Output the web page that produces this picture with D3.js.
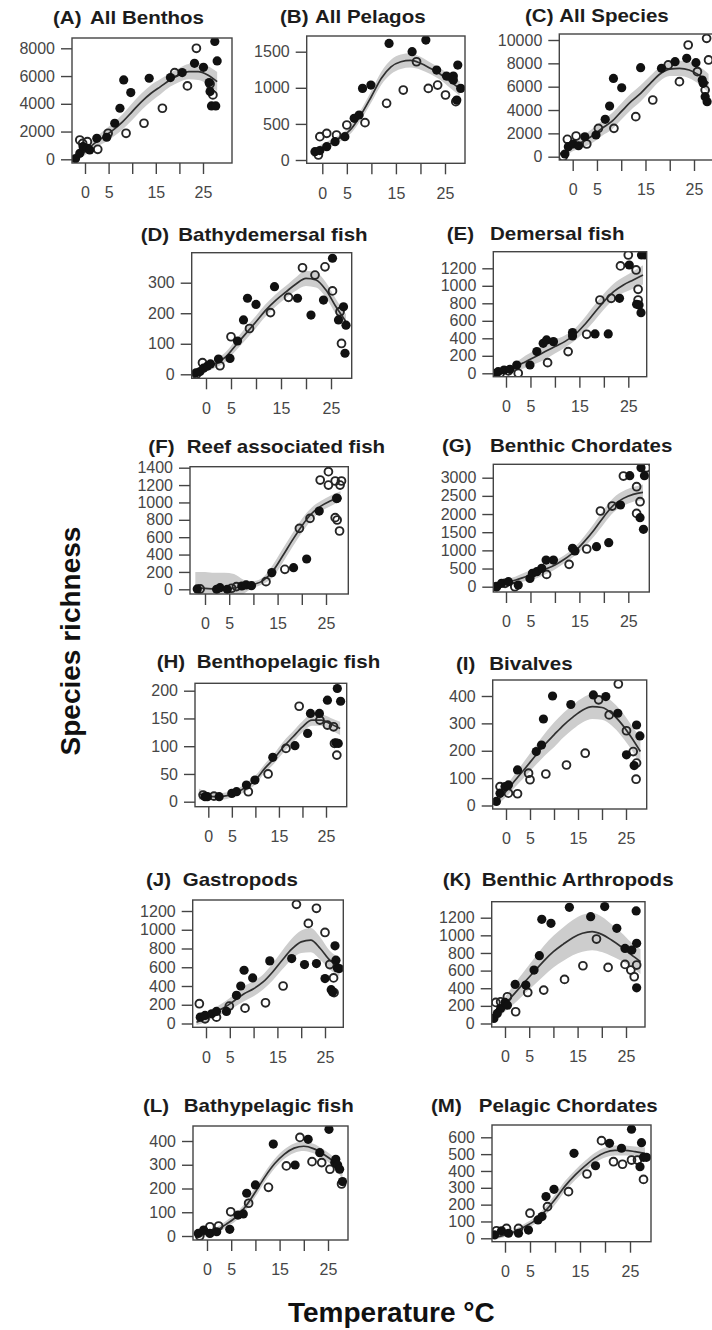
<!DOCTYPE html>
<html>
<head>
<meta charset="utf-8">
<script src="https://cdn.jsdelivr.net/npm/d3@7"></script>
<style>
  body { margin: 0; background: #fff; }
  svg { display: block; font-family: "Liberation Sans", Arial, sans-serif; }
</style>
</head>
<body>
<script>
const width = 712,
  height = 1330;

// temperatures at which the fitted curve / CI band were read
const temps = [-2, 0, 2, 4, 6, 8, 10, 12, 14, 16, 18, 20, 22, 24, 26, 28];
const xTicks = [0, 5, 10, 15, 20, 25];
const xLabels = ['0', '5', '', '15', '', '25'];

const panelIds = ['A', 'B', 'C', 'D', 'E', 'F', 'G', 'H', 'I', 'J', 'K', 'L', 'M'];
const panelNames = ['All Benthos', 'All Pelagos', 'All Species', 'Bathydemersal fish', 'Demersal fish',
  'Reef associated fish', 'Benthic Chordates', 'Benthopelagic fish', 'Bivalves', 'Gastropods',
  'Benthic Arthropods', 'Bathypelagic fish', 'Pelagic Chordates'];

// (A) All Benthos
const yTicksA = [0, 2000, 4000, 6000, 8000];
const filledA = [[-2,50],[-1.1,430],[-0.4,910],[0.5,790],[1,670],[2.5,1510],[4.6,1590],[6.3,2600],[7.4,3680],[8.2,5720],[9.7,4810],[13.6,5840],[18.1,5890],[20.6,6250],[23.2,6920],[25.1,6630],[26.3,5530],[26.5,4880],[26.8,3850],[27.7,3850],[27.5,8490],[28,7090]];
const openA = [[-1.1,1390],[0.5,1270],[-0.5,1150],[2.7,720],[4.9,1875],[8.7,1875],[12.5,2600],[16.4,3680],[19,6250],[21.7,5290],[23.6,8000],[26.5,5430],[27.1,4640]];
const fitA = [0,550,1150,1630,2120,2720,3440,4160,4760,5240,5720,6080,6320,6320,6080,5600];
const ciA = [100,250,350,450,500,550,600,600,600,550,500,500,550,600,650,700];

// (B) All Pelagos
const yTicksB = [0, 500, 1000, 1500];
const filledB = [[-1.5,115],[-0.5,130],[0.9,185],[2.6,254],[4.6,323],[6.5,577],[7.5,623],[8.2,992],[9.9,1038],[13.6,1615],[18.3,1500],[21.1,1661],[23.3,1246],[25.3,1163],[26.7,1163],[26.7,1108],[27.6,1315],[28.2,992],[27.4,830]];
const openB = [[-0.8,70],[-0.5,323],[0.9,369],[2.9,346],[5,485],[8.7,517],[13.1,785],[16.5,969],[19.2,1361],[21.6,992],[23.5,1038],[25.1,900],[27.2,808]];
const fitB = [90,170,240,320,440,640,880,1130,1290,1360,1380,1340,1270,1190,1090,990];
const ciB = [50,50,50,50,60,70,80,90,100,100,100,90,80,80,90,100];

// (C) All Species
const yTicksC = [0, 2000, 4000, 6000, 8000, 10000];
const filledC = [[-1.6,230],[-0.9,860],[0.1,1090],[1.2,940],[2.5,1710],[4.8,1860],[6.7,3200],[7.6,4340],[8.4,6710],[10.1,5910],[14,7630],[18.3,7570],[21.1,8140],[23.5,8430],[25.4,8060],[26.7,6570],[26.9,6290],[27.3,5140],[27.7,4710]];
const openC = [[-2,0],[-1.1,1490],[0.7,1770],[2.9,1090],[5.3,2430],[8.5,2430],[13,3430],[16.5,4860],[19.7,7860],[22,6430],[23.8,9570],[25.7,7290],[27.6,10140],[28,8290],[27.3,5710]];
const fitC = [0,860,1290,1770,2430,3000,3860,4710,5430,6290,7090,7510,7570,7430,7000,6290];
const ciC = [150,400,500,600,650,700,700,700,700,650,600,600,650,700,750,800];

// (D) Bathydemersal fish
const yTicksD = [0, 100, 200, 300];
const filledD = [[-2,5],[-1.2,9],[-0.5,20],[0.3,27],[0.9,34],[2.5,50],[4.8,52],[6.3,109],[7.5,178],[8.3,249],[10,229],[13.7,287],[18.3,249],[21,194],[23.5,243],[25.3,380],[26.5,178],[27.5,221],[28,161],[27.8,69]];
const openD = [[-1.9,0],[-0.7,38],[2.8,28],[5,123],[8.7,150],[12.9,202],[16.5,252],[19.3,349],[21.8,325],[23.8,352],[25.3,273],[26.8,205],[27.1,101]];
const fitD = [0,20,36,58,96,134,172,211,243,270,296,314,309,276,221,172];
const ciD = [10,12,14,16,18,20,20,20,20,20,22,25,25,25,25,25];

// (E) Demersal fish
const yTicksE = [0, 200, 400, 600, 800, 1000, 1200];
const filledE = [[-2.2,0],[-1.6,19],[-0.4,38],[0.8,46],[2.2,95],[4.9,95],[6.3,248],[7.6,343],[8.3,381],[9.7,362],[13.6,465],[13.6,427],[18.2,450],[20.9,450],[23.2,857],[25.2,1238],[26.7,789],[27.2,781],[27.6,693],[27.7,1352],[28.4,1352]];
const openE = [[-1.2,0],[0.5,27],[2.5,0],[8.5,122],[12.7,248],[16.5,446],[19.2,838],[21.5,857],[23.4,1227],[25,1352],[26.6,1181],[27,960],[27,838]];
const fitE = [0,30,76,133,190,248,305,362,438,552,686,819,933,1010,1067,1124];
const ciE = [20,30,50,70,80,90,80,70,70,80,90,90,90,90,100,110];

// (F) Reef associated fish
const yTicksF = [0, 200, 400, 600, 800, 1000, 1200, 1400];
const filledF = [[-1.6,4],[2.4,0],[3.1,19],[4.6,0],[7.6,38],[8.5,50],[9.6,42],[13.8,192],[18.3,249],[21,349],[23.6,901],[27.3,1047]];
const openF = [[-1,4],[5.5,12],[6.5,31],[12.6,88],[16.5,230],[19.5,702],[21.7,817],[23.8,1258],[25.5,1354],[25.5,1200],[26.9,1247],[28.2,1247],[27.9,1200],[27.2,1047],[26.9,825],[27.3,798],[27.8,671]];
const fitF = [15,10,5,5,15,30,55,100,210,380,560,730,870,960,1020,1070];
const ciF = [185,190,185,185,160,80,40,40,70,80,80,80,70,60,60,60];

// (G) Benthic Chordates
const yTicksG = [0, 500, 1000, 1500, 2000, 2500, 3000];
const filledG = [[-1.9,0],[-0.9,92],[0.5,138],[2.5,46],[4.9,229],[5.4,367],[6.3,413],[7.3,505],[8.2,734],[9.7,734],[13.6,1055],[14.1,982],[18.5,1101],[21,1211],[23.4,2248],[25.3,3055],[27.6,3275],[28.3,3055],[27.4,1899],[28.1,1578]];
const openG = [[-2,0],[-0.2,92],[1.8,0],[8.3,339],[12.9,615],[16.5,1037],[19.3,2083],[21.7,2220],[24,3046],[26.7,2752],[27.4,2339],[26.7,2018],[28.7,3275]];
const fitG = [0,110,183,275,367,477,596,761,963,1239,1560,1927,2248,2431,2541,2596];
const ciG = [60,80,100,120,150,140,120,110,120,150,180,200,200,200,200,220];

// (H) Benthopelagic fish
const yTicksH = [0, 50, 100, 150, 200];
const filledH = [[-0.7,9],[-0.2,9],[2.3,9],[5,15],[6,18],[8.1,30],[9.9,39],[13.7,80],[18.4,101],[21.1,123],[21.7,159],[23.6,159],[25.3,183],[27.4,204],[28.1,181],[27.1,106],[27.6,105]];
const openH = [[-1.1,12],[1.2,10],[8.5,18],[12.7,50],[16.5,96],[19.3,172],[23.7,147],[25.3,138],[26.6,135],[26.8,105],[27.3,84]];
const fitH = [14,10,9,11,17,26,39,60,78,99,117,135,147,147,140,132];
const ciH = [10,7,6,6,6,7,8,8,9,10,10,10,10,10,11,12];

// (I) Bivalves
const yTicksI = [0, 100, 200, 300, 400];
const filledI = [[-2,15],[-1.25,45],[-0.2,69],[0.5,75],[2.4,130],[6.3,197],[7.4,221],[7.8,316],[9.7,400],[13.5,369],[18.2,404],[20.8,398],[23.3,337],[25.1,185],[26.7,146],[27.2,294],[27.9,254]];
const openI = [[-1.25,69],[0.5,45],[2.4,43],[4.7,118],[5,94],[8.3,115],[12.6,148],[16.5,191],[19.3,386],[21.5,331],[23.4,444],[25.1,273],[26.5,197],[27.2,155],[27.1,96]];
const fitI = [15,51,94,136,179,221,258,294,324,349,361,358,337,300,252,197];
const ciI = [15,20,25,30,35,40,45,45,45,45,45,45,45,45,45,50];

// (J) Gastropods
const yTicksJ = [0, 200, 400, 600, 800, 1000, 1200];
const filledJ = [[-1.2,68],[-0.2,86],[1.2,104],[2.2,129],[4.3,129],[6.4,300],[7.3,400],[8,568],[9.8,486],[13.4,668],[18,693],[20.7,629],[23.2,639],[25,479],[26.3,361],[26.6,336],[27.1,829],[27.3,675],[27.6,593],[28,586]];
const openJ = [[-1.4,211],[-0.2,50],[2.2,68],[4.9,186],[8.2,164],[12.5,221],[16.2,400],[19,1271],[21.5,1068],[23.2,1229],[25,971],[26,629],[26.8,486],[26.9,329]];
const fitJ = [14,57,121,175,246,318,371,443,550,675,793,871,889,800,675,604];
const ciJ = [30,40,50,60,70,80,80,80,90,100,110,120,130,120,100,100];

// (K) Benthic Arthropods
const yTicksK = [0, 200, 400, 600, 800, 1000, 1200];
const filledK = [[-2.3,57],[-1.6,114],[-0.9,170],[0,239],[0.5,208],[2.1,443],[4.3,436],[6,606],[7.1,769],[7.6,1182],[9.5,1136],[13.3,1318],[17.7,1212],[20.6,1326],[23.1,1080],[24.8,852],[26.2,833],[27.2,909],[27.1,1277],[27.2,405]];
const openK = [[-1.9,239],[-0.9,246],[0.5,303],[2.2,133],[4.7,352],[8,379],[12.3,500],[16.1,655],[18.9,958],[21.3,636],[24.8,670],[26,606],[26.7,530],[27.2,663]];
const fitK = [64,216,341,466,587,708,814,898,973,1023,1042,1011,947,871,784,701];
const ciK = [40,80,110,130,150,170,180,190,200,210,210,200,180,160,140,140];

// (L) Bathypelagic fish
const yTicksL = [0, 100, 200, 300, 400];
const filledL = [[-1.8,11],[-0.7,25],[0.6,11],[2,18],[4.7,28],[6.4,88],[7.5,93],[8.2,180],[10,215],[13.7,387],[18.2,299],[20.9,407],[23.3,351],[25.2,449],[26.4,309],[26.6,323],[27,299],[27.4,281],[28,229]];
const openL = [[-1.5,0],[0.6,39],[2.4,42],[4.9,102],[8.6,138],[12.7,205],[16.4,295],[19.2,415],[21.7,313],[23.7,309],[25.4,281],[27.8,219]];
const fitL = [0,10,25,50,80,125,185,250,305,345,370,378,368,345,315,265];
const ciL = [8,10,12,14,16,18,20,20,20,20,20,20,20,20,20,25];

// (M) Pelagic Chordates
const yTicksM = [0, 100, 200, 300, 400, 500, 600];
const filledM = [[-2.1,20],[-0.7,45],[0.7,30],[2.7,30],[4.7,49],[6.6,109],[7.4,129],[8.2,248],[9.8,291],[13.8,505],[18.1,431],[20.9,564],[23.3,535],[25.3,648],[27.3,568],[27,425],[27.7,481],[28.3,481]];
const openM = [[-1.7,45],[0.3,59],[2.7,59],[5,149],[8.5,188],[12.7,277],[16.4,382],[19.3,580],[21.7,455],[23.5,440],[25.3,465],[26.5,465],[27.7,350]];
const fitM = [5,20,40,70,105,160,230,310,375,430,478,510,522,522,515,505];
const ciM = [10,12,15,18,20,25,30,30,30,30,30,30,30,30,30,35];

// panel geometry: box [left, right, top, bottom], pixel of x=0 / x=25,
// pixel of y=0 / top tick, title label x, title name x, title baseline
const layout = {
  A: { box: [72, 232, 38, 163], x: [85, 203], y: [159.3, 48.3], title: [53, 90, 24] },
  B: { box: [306.7, 465, 36, 163.3], x: [322.3, 445], y: [160, 51.7], title: [280, 315, 23.3] },
  C: { box: [559.3, 724, 34, 160], x: [572.7, 694], y: [156.7, 40], title: [525, 559.3, 22] },
  D: { box: [191.7, 351.7, 252.7, 378.3], x: [206, 331], y: [374.3, 282.7], title: [140.7, 178.3, 240.7] },
  E: { box: [493.3, 646.7, 251.7, 376.7], x: [506, 628.3], y: [373.3, 268.3], title: [446.7, 490, 240] },
  F: { box: [190, 348.3, 466.7, 594], x: [205, 326], y: [589.3, 467.7], title: [148.3, 186.7, 452.7] },
  G: { box: [493.3, 649.3, 464.3, 592], x: [506, 628.3], y: [586.7, 477.7], title: [442, 490, 451.7] },
  H: { box: [195, 346.7, 683.3, 806.7], x: [208.3, 326], y: [801.7, 690.7], title: [156.7, 196.7, 668.3] },
  I: { box: [492.7, 646.7, 680, 809], x: [506, 626], y: [805.5, 696], title: [456, 489.3, 670] },
  J: { box: [192.7, 343.3, 900, 1027.3], x: [206, 325], y: [1023.5, 911], title: [146, 182.7, 885.7] },
  K: { box: [491.7, 645, 901.7, 1027], x: [505, 626], y: [1023.5, 917.7], title: [442.7, 481.7, 885.7] },
  L: { box: [193, 348, 1126, 1240], x: [207, 328], y: [1236, 1141], title: [143, 183.8, 1111.7] },
  M: { box: [492, 651, 1125, 1241.7], x: [505, 630], y: [1238.3, 1137.3], title: [431, 478.7, 1111.7] }
};

const series = {
  A: { yTicks: yTicksA, filled: filledA, open: openA, fit: fitA, ci: ciA },
  B: { yTicks: yTicksB, filled: filledB, open: openB, fit: fitB, ci: ciB },
  C: { yTicks: yTicksC, filled: filledC, open: openC, fit: fitC, ci: ciC },
  D: { yTicks: yTicksD, filled: filledD, open: openD, fit: fitD, ci: ciD },
  E: { yTicks: yTicksE, filled: filledE, open: openE, fit: fitE, ci: ciE },
  F: { yTicks: yTicksF, filled: filledF, open: openF, fit: fitF, ci: ciF },
  G: { yTicks: yTicksG, filled: filledG, open: openG, fit: fitG, ci: ciG },
  H: { yTicks: yTicksH, filled: filledH, open: openH, fit: fitH, ci: ciH },
  I: { yTicks: yTicksI, filled: filledI, open: openI, fit: fitI, ci: ciI },
  J: { yTicks: yTicksJ, filled: filledJ, open: openJ, fit: fitJ, ci: ciJ },
  K: { yTicks: yTicksK, filled: filledK, open: openK, fit: fitK, ci: ciK },
  L: { yTicks: yTicksL, filled: filledL, open: openL, fit: fitL, ci: ciL },
  M: { yTicks: yTicksM, filled: filledM, open: openM, fit: fitM, ci: ciM }
};

const svg = d3.select('body').append('svg')
  .attr('width', width)
  .attr('height', height);

const titleText = (x, y, str) => svg.append('text')
  .attr('transform', `translate(${x},${y}) scale(1.14,1)`)
  .attr('font-size', 18)
  .attr('font-weight', 'bold')
  .attr('fill', '#1c1c1c')
  .text(str);

panelIds.forEach((id, k) => {
  const s = series[id],
    L = layout[id];
  const [bx0, bx1, by0, by1] = L.box;

  const x = d3.scaleLinear().domain([0, 25]).range(L.x);
  const y = d3.scaleLinear().domain([0, s.yTicks[s.yTicks.length - 1]]).range(L.y);

  const g = svg.append('g');

  g.append('clipPath')
    .attr('id', 'clip' + id)
    .append('rect')
    .attr('x', bx0).attr('y', by0)
    .attr('width', bx1 - bx0).attr('height', by1 - by0);

  const plot = g.append('g').attr('clip-path', `url(#clip${id})`);

  const band = temps.map((t, i) => ({ t: t, fit: s.fit[i], ci: s.ci[i] }));

  plot.append('path')
    .datum(band)
    .attr('fill', '#cdcdcd')
    .attr('d', d3.area()
      .x(d => x(d.t))
      .y0(d => y(d.fit - d.ci))
      .y1(d => y(d.fit + d.ci))
      .curve(d3.curveMonotoneX));

  plot.append('path')
    .datum(band)
    .attr('fill', 'none')
    .attr('stroke', '#303030')
    .attr('stroke-width', 1.7)
    .attr('d', d3.line()
      .x(d => x(d.t))
      .y(d => y(d.fit))
      .curve(d3.curveMonotoneX));

  plot.selectAll('circle.open')
    .data(s.open)
    .enter().append('circle')
    .attr('class', 'open')
    .attr('cx', d => x(d[0]))
    .attr('cy', d => y(d[1]))
    .attr('r', 3.9)
    .attr('fill', 'none')
    .attr('stroke', '#262626')
    .attr('stroke-width', 1.9);

  plot.selectAll('circle.filled')
    .data(s.filled)
    .enter().append('circle')
    .attr('class', 'filled')
    .attr('cx', d => x(d[0]))
    .attr('cy', d => y(d[1]))
    .attr('r', 4.6)
    .attr('fill', '#111');

  g.append('rect')
    .attr('x', bx0).attr('y', by0)
    .attr('width', bx1 - bx0).attr('height', by1 - by0)
    .attr('fill', 'none')
    .attr('stroke', '#444')
    .attr('stroke-width', 1.4);

  const yAxis = g.append('g')
    .attr('transform', `translate(${bx0},0)`)
    .call(d3.axisLeft(y)
      .tickValues(s.yTicks)
      .tickFormat(d3.format('d'))
      .tickSize(11)
      .tickPadding(6));

  const xAxis = g.append('g')
    .attr('transform', `translate(0,${by1})`)
    .call(d3.axisBottom(x)
      .tickValues(xTicks)
      .tickFormat((d, i) => xLabels[i])
      .tickSize(11)
      .tickPadding(13));

  [yAxis, xAxis].forEach(ax => {
    ax.select('.domain').remove();
    ax.selectAll('line').attr('stroke', '#444').attr('stroke-width', 1.4);
    ax.selectAll('text')
      .attr('font-family', '"Liberation Sans", Arial, sans-serif')
      .attr('font-size', 16)
      .attr('fill', '#464646');
  });

  titleText(L.title[0], L.title[2], `(${id})`);
  titleText(L.title[1], L.title[2], panelNames[k]);
});

svg.append('text')
  .attr('transform', 'translate(80,641) rotate(-90)')
  .attr('text-anchor', 'middle')
  .attr('font-size', 28)
  .attr('font-weight', 'bold')
  .attr('fill', '#111')
  .text('Species richness');

svg.append('text')
  .attr('x', 288)
  .attr('y', 1322)
  .attr('font-size', 28)
  .attr('font-weight', 'bold')
  .attr('fill', '#111')
  .text('Temperature °C');
</script>
</body>
</html>
